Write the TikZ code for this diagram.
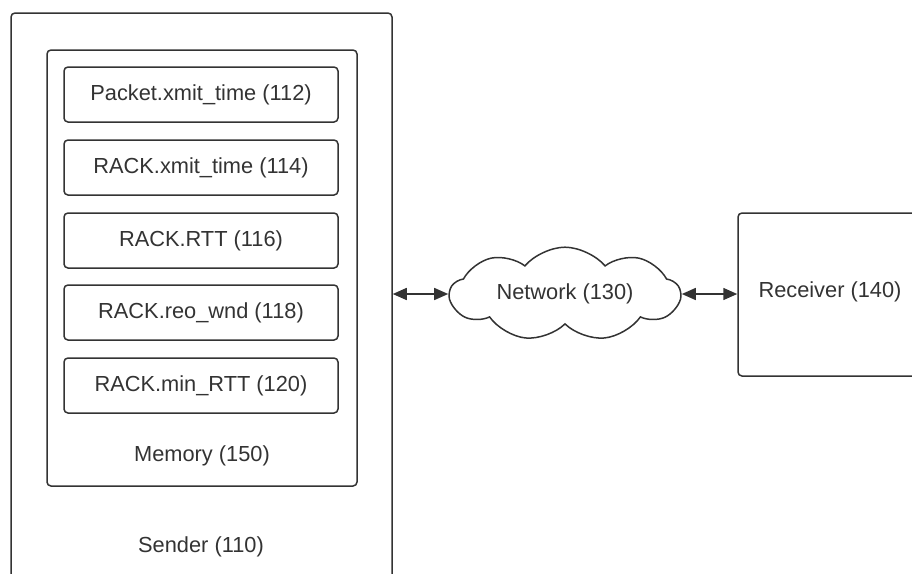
\documentclass[tikz,border=0pt]{standalone}
\usepackage{fontspec}
\setmainfont{Liberation Sans}
\usetikzlibrary{shapes.symbols,arrows.meta}
\definecolor{ink}{HTML}{333333}

\tikzset{
  box/.style={draw=ink,line width=0.75pt,rounded corners=2pt,inner sep=0pt},
  field/.style={box,minimum width=137pt,minimum height=27.5pt,
    font=\fontsize{10.9}{13}\selectfont,text=ink},
  tag/.style={inner sep=0pt,font=\fontsize{10.9}{13}\selectfont,text=ink},
  link/.style={draw=ink,line width=0.75pt,
    {Triangle[length=7pt,width=6pt]}-{Triangle[length=7pt,width=6pt]}}
}

\begin{document}
\begin{tikzpicture}[x=0.5pt,y=-0.5pt]
\useasboundingbox (0,0) rectangle (912,574);
\clip (0,0) rectangle (912,574);
% sender with its memory
\node[box,minimum width=190.5pt,minimum height=300pt] (sender) at (201.5,313) {};
\node[tag] (senderlbl) at (201,547) {Sender (110)};
\node[box,minimum width=155pt,minimum height=218pt] (memory) at (202,268) {};
\node[tag] (memorylbl) at (202,456) {Memory (150)};
% fields kept in memory
\node[field] (pktxmit) at (201,94.5) {Packet.xmit\_time (112)};
\node[field] (rackxmit) at (201,167.5) {RACK.xmit\_time (114)};
\node[field] (rackrtt) at (201,240.5) {RACK.RTT (116)};
\node[field] (rackreo) at (201,312.5) {RACK.reo\_wnd (118)};
\node[field] (rackmin) at (201,385.5) {RACK.min\_RTT (120)};
% network and receiver
\node[cloud,draw=ink,line width=0.75pt,cloud puffs=9,cloud puff arc=100,aspect=2.9,
  minimum width=115pt,minimum height=36pt,inner sep=0pt,
  font=\fontsize{10.9}{13}\selectfont,text=ink] (net) at (565,294) {Network (130)};
\node[box,minimum width=131pt,minimum height=81.5pt] (receiver) at (869,294.5) {};
\node[tag] (receiverlbl) at (830,292) {Receiver (140)};
% links
\draw[link] (sender.east |- net.west) -- (net.west);
\draw[link] (net.east) -- (receiver.west |- net.east);
\end{tikzpicture}
\end{document}
